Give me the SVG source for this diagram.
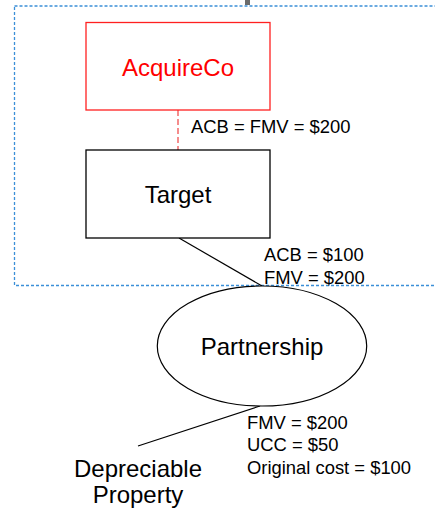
<svg xmlns="http://www.w3.org/2000/svg" width="435" height="512" viewBox="0 0 435 512">
<style>
text{font-family:"Liberation Sans",Arial,sans-serif;fill:#000}
.big{font-size:24px}
.lbl{font-size:18.4px}
.box{fill:#fff;stroke:#000;stroke-width:1.3}
.conn{stroke:#000;stroke-width:1.2;fill:none}
</style>
<rect width="435" height="512" fill="#fff"/>
<rect x="14.5" y="6" width="440" height="279.5" fill="none" stroke="#3b8fd8" stroke-width="1.3" stroke-dasharray="3,2"/>
<rect x="245" y="0" width="5" height="5" fill="#6b6b6b"/>
<g id="connectors">
<line x1="178" y1="110" x2="178" y2="150" stroke="#f05050" stroke-width="1.3" stroke-dasharray="6,3"/>
<line class="conn" x1="179" y1="238" x2="262" y2="286"/>
<line class="conn" x1="260" y1="406" x2="138" y2="446"/>
</g>
<g id="acquireco">
<rect x="86" y="22.5" width="184" height="87.5" fill="#fff" stroke="#ff2020" stroke-width="1.3"/>
<text class="big" x="178" y="76" text-anchor="middle" style="fill:#ff0000">AcquireCo</text>
</g>
<g id="label-acquire">
<text class="lbl" x="191" y="133">ACB = FMV = $200</text>
</g>
<g id="target">
<rect class="box" x="86" y="150" width="184" height="88"/>
<text class="big" x="178" y="203" text-anchor="middle">Target</text>
</g>
<g id="label-target">
<text class="lbl" x="264" y="261">ACB = $100</text>
<text class="lbl" x="264" y="283.5">FMV = $200</text>
</g>
<g id="partnership">
<ellipse cx="262" cy="346" rx="104.7" ry="60" fill="#fff" stroke="#000" stroke-width="1.2"/>
<text class="big" x="262" y="355" text-anchor="middle">Partnership</text>
</g>
<g id="label-partnership">
<text class="lbl" x="247" y="428.5">FMV = $200</text>
<text class="lbl" x="247" y="451">UCC = $50</text>
<text class="lbl" x="247" y="473.5">Original cost = $100</text>
</g>
<g id="property">
<text class="big" x="138" y="476.5" text-anchor="middle">Depreciable</text>
<text class="big" x="138" y="502.5" text-anchor="middle">Property</text>
</g>
</svg>
